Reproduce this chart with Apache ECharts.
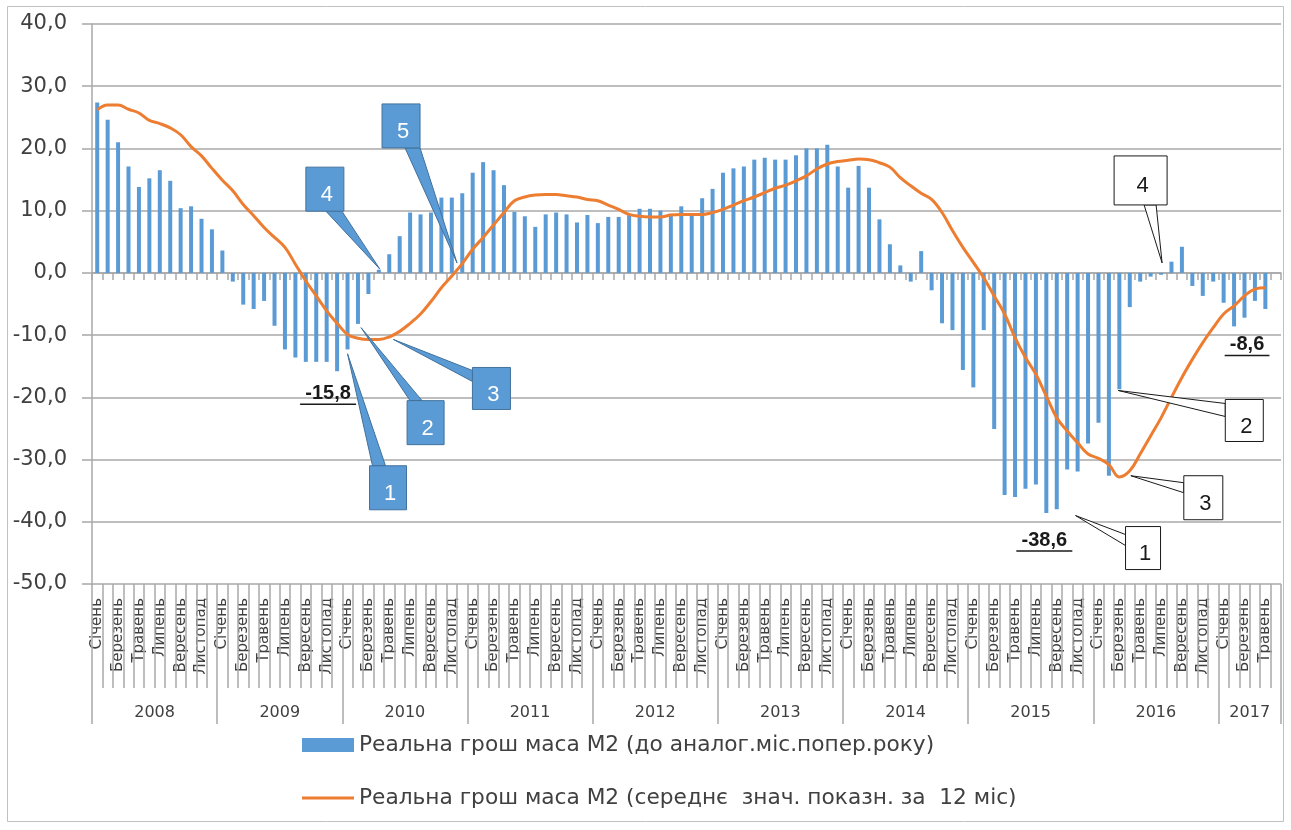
<!DOCTYPE html>
<html>
<head>
<meta charset="utf-8">
<script src="https://cdn.jsdelivr.net/npm/echarts@6/dist/echarts.min.js"></script>
<style>
html,body{margin:0;padding:0;background:#fff;}
#c{width:1291px;height:830px;}
</style>
</head>
<body>
<div id="c"></div>
<script>
// ---- data ----
const monthNames = ['Січень','Лютий','Березень','Квітень','Травень','Червень','Липень','Серпень','Вересень','Жовтень','Листопад','Грудень'];
const years = ['2008','2009','2010','2011','2012','2013','2014','2015','2016','2017'];
const monthsPerYear = [12,12,12,12,12,12,12,12,12,6];

const barValues = [
  27.4, 24.6, 21.0, 17.1, 13.8, 15.2, 16.5, 14.8, 10.4, 10.7, 8.7, 7.0,
  3.6, -1.4, -5.1, -5.8, -4.5, -8.5, -12.3, -13.6, -14.3, -14.3, -14.3, -15.8,
  -12.3, -8.2, -3.4, 0.5, 3.0, 5.9, 9.7, 9.4, 9.7, 12.1, 12.1, 12.8,
  16.1, 17.8, 16.5, 14.1, 9.8, 9.1, 7.4, 9.4, 9.7, 9.4, 8.1, 9.3,
  8.0, 9.0, 9.0, 9.3, 10.3, 10.3, 10.0, 9.5, 10.7, 9.2, 12.0, 13.5,
  16.1, 16.8, 17.1, 18.2, 18.5, 18.2, 18.2, 18.9, 20.0, 20.0, 20.6, 17.1,
  13.7, 17.2, 13.7, 8.6, 4.6, 1.2, -1.4, 3.5, -2.8, -8.1, -9.2, -15.6,
  -18.4, -9.2, -25.1, -35.7, -36.0, -34.7, -34.0, -38.6, -38.0, -31.6, -31.9, -27.4,
  -24.1, -32.6, -18.7, -5.5, -1.4, -0.6, -0.3, 1.8, 4.2, -2.1, -3.7, -1.4,
  -4.8, -8.6, -7.2, -4.5, -5.8, null
];
const avgValues = [
  26.2, 27.0, 27.0, 26.3, 25.7, 24.5, 24.0, 23.3, 22.2, 20.3, 18.8, 16.8,
  14.9, 13.2, 11.0, 9.2, 7.3, 5.7, 4.1, 1.4, -1.3, -3.7, -6.1, -8.1,
  -9.9, -10.5, -10.7, -10.7, -10.3, -9.4, -8.1, -6.6, -4.6, -2.4, -0.5, 1.5,
  3.8, 5.7, 7.7, 9.7, 11.6, 12.2, 12.5, 12.6, 12.6, 12.4, 12.2, 11.8,
  11.6, 10.9, 10.2, 9.4, 9.1, 9.0, 9.0, 9.3, 9.4, 9.4, 9.4, 9.7,
  10.2, 10.9, 11.6, 12.2, 12.9, 13.6, 14.1, 14.8, 15.6, 16.7, 17.5, 17.9,
  18.1, 18.3, 18.2, 17.7, 17.0, 15.3, 14.0, 12.8, 11.8, 9.7, 6.8, 4.1,
  1.7, -0.8, -3.7, -6.6, -10.4, -13.6, -16.3, -19.8, -23.3, -25.4, -27.3, -29.1,
  -29.8, -30.8, -32.8, -31.8, -29.1, -26.2, -23.3, -20.0, -16.8, -13.9, -11.2, -8.8,
  -6.6, -5.3, -3.7, -2.6, -2.4, null
];
const seriesNames = [
  'Реальна грош маса М2 (до аналог.міс.попер.року)',
  'Реальна грош маса М2 (середнє  знач. показн. за  12 міс)'
];
const yTicks = { min: -50, max: 40, step: 10 };

// value labels (category index, value, text)
const valueNotes = [
  { idx: 23, value: -15.8, text: '-15,8' },
  { idx: 91, value: -38.6, text: '-38,6' },
  { idx: 109, value: -8.6, text: '-8,6' }
];
// callouts: label, tip in data coords [category index, value]
const blueCallouts = [
  { label: '1', tip: [24, -13.0] },
  { label: '2', tip: [25.3, -8.8] },
  { label: '3', tip: [28.4, -10.7] },
  { label: '4', tip: [27.1, 0.6] },
  { label: '5', tip: [34.5, 1.6] }
];
const whiteCallouts = [
  { label: '4', tip: [102.1, 1.6] },
  { label: '2', tip: [97.9, -18.9] },
  { label: '3', tip: [99.1, -32.6] },
  { label: '1', tip: [93.8, -39.0] }
];

// ---- derived ----
const categories = [];
years.forEach((y, i) => { for (let m = 0; m < monthsPerYear[i]; m++) categories.push(monthNames[m]); });
const yearBounds = [0];
monthsPerYear.forEach(n => yearBounds.push(yearBounds[yearBounds.length - 1] + n));
const yearMids = years.map((y, i) => (yearBounds[i] + yearBounds[i + 1]) / 2);
const total = yearBounds[yearBounds.length - 1];

const FONT = 'DejaVu Sans';
const TXT = '#404040';
const GRID = '#A8A8A8';

const chart = echarts.init(document.getElementById('c'), null, { renderer: 'canvas' });

const option = {
  animation: false,
  backgroundColor: '#fff',
  textStyle: { fontFamily: FONT },
  grid: [
    { left: 92, right: 10, top: 24, bottom: 246, containLabel: false, outerBoundsMode: 'none' },
    { left: 92, right: 10, top: 584, height: 104, containLabel: false, outerBoundsMode: 'none' }
  ],
  legend: [
    {
      data: [{ name: seriesNames[0], icon: 'rect' }],
      left: 302, top: 734, padding: 0, itemWidth: 52, itemHeight: 14, itemGap: 0,
      textStyle: { fontFamily: FONT, fontSize: 21.7, color: TXT }
    },
    {
      data: [{ name: seriesNames[1], icon: 'rect' }],
      left: 302, top: 787, padding: 0, itemWidth: 52, itemHeight: 3, itemGap: 0,
      textStyle: { fontFamily: FONT, fontSize: 21.7, color: TXT }
    }
  ],
  xAxis: [
    {
      type: 'category', data: categories, gridIndex: 0,
      axisLine: { show: true, onZero: true, lineStyle: { color: GRID, width: 1.5 } },
      axisTick: { show: true, interval: 0, length: 7, lineStyle: { color: GRID, width: 1.5 } },
      axisLabel: { show: false },
      splitLine: { show: false }
    },
    {
      type: 'category', data: categories, gridIndex: 0, position: 'bottom', z: 5,
      axisLine: { show: false, onZero: false },
      axisTick: { show: false },
      axisLabel: { interval: 1, rotate: 90, margin: 14, fontFamily: FONT, fontSize: 15, color: TXT },
      splitLine: { show: false }
    },
    {
      type: 'value', gridIndex: 0, position: 'bottom', offset: 104, min: 0, max: total,
      axisLine: { show: false, onZero: false },
      axisTick: { show: true, length: 36, customValues: yearBounds, lineStyle: { color: GRID, width: 1.5 } },
      axisLabel: {
        customValues: yearMids, margin: 17, fontFamily: FONT, fontSize: 16, color: TXT,
        formatter: v => { const i = yearMids.indexOf(v); return i >= 0 ? years[i] : ''; }
      },
      splitLine: { show: false }
    },
    {
      // month separators of the label band
      type: 'value', gridIndex: 1, min: 0, max: total, interval: 1, z: 10,
      axisLine: { show: false, onZero: false }, axisTick: { show: false }, axisLabel: { show: false },
      splitLine: { show: true, lineStyle: { color: GRID, width: 1.5 } }
    }
  ],
  yAxis: [
    {
      type: 'value', gridIndex: 0, min: yTicks.min, max: yTicks.max, interval: yTicks.step,
      axisLine: { show: true, onZero: false, lineStyle: { color: GRID, width: 1.5 } },
      axisTick: { show: true, length: 10, lineStyle: { color: GRID, width: 1.5 } },
      axisLabel: { margin: 25, fontFamily: FONT, fontSize: 21, color: TXT,
        formatter: v => v.toFixed(1).replace('.', ',') },
      splitLine: { show: true, lineStyle: { color: GRID, width: 1.5 } }
    },
    {
      type: 'value', gridIndex: 1, min: 0, max: 1, show: false,
      axisLine: { show: false }, splitLine: { show: false }
    }
  ],
  series: [
    {
      name: seriesNames[0], type: 'bar', xAxisIndex: 0, yAxisIndex: 0,
      data: barValues, barWidth: 4, itemStyle: { color: '#5B9BD5' }, z: 2
    },
    {
      name: seriesNames[1], type: 'line', xAxisIndex: 0, yAxisIndex: 0,
      data: avgValues, symbol: 'none', showSymbol: false, smooth: 0.4,
      lineStyle: { color: '#ED7D31', width: 3 }, itemStyle: { color: '#ED7D31' }, z: 3
    }
  ]
};
chart.setOption(option);

// ---- annotations positioned through the chart's scales ----
function px(idx, val) {
  const i0 = Math.floor(idx), f = idx - i0;
  const a = chart.convertToPixel({ seriesIndex: 0 }, [i0, val]);
  const b = chart.convertToPixel({ seriesIndex: 0 }, [i0 + 1, val]);
  return [a[0] + f * (b[0] - a[0]), a[1]];
}
const g = [];
g.push({ type: 'rect', z: -10, silent: true, shape: { x: 7.5, y: 6.5, width: 1276, height: 815 },
  style: { fill: 'none', stroke: '#C0C0C0', lineWidth: 1 } });

// callout geometry (pixel offsets of box from tip, box size, pointer base on box)
const blueGeom = [
  { dx: 22, dy: 112, w: 37, h: 44, base: [[3, 0], [16, 0]] },
  { dx: 46, dy: 73, w: 37, h: 44, base: [[3, 0], [15, 0]] },
  { dx: 79, dy: 28, w: 38, h: 42, base: [[0, 3], [0, 14]] },
  { dx: -74, dy: -102, w: 38, h: 44, base: [[20, 44], [36, 44]] },
  { dx: -75, dy: -159, w: 38, h: 44, base: [[23, 44], [38, 44]] }
];
const whiteGeom = [
  { dx: -48, dy: -107, w: 53, h: 49, base: [[30, 49], [42, 49]] },
  { dx: 107, dy: 9, w: 38, h: 42, base: [[0, 4], [0, 17]] },
  { dx: 53, dy: 0, w: 39, h: 44, base: [[0, 7], [0, 17]] },
  { dx: 50, dy: 11, w: 35, h: 43, base: [[0, 8], [0, 19]] }
];
function addCallout(c, geo, blue) {
  const t = px(c.tip[0], c.tip[1]);
  const bx = t[0] + geo.dx, by = t[1] + geo.dy;
  const fill = blue ? '#5B9BD5' : '#FFFFFF';
  const stroke = blue ? '#41719C' : '#1a1a1a';
  g.push({ type: 'polygon', z: 100, silent: true,
    shape: { points: [t, [bx + geo.base[0][0], by + geo.base[0][1]], [bx + geo.base[1][0], by + geo.base[1][1]]] },
    style: { fill: fill, stroke: stroke, lineWidth: 1 } });
  g.push({ type: 'rect', z: 101, silent: true, shape: { x: bx, y: by, width: geo.w, height: geo.h },
    style: { fill: fill, stroke: stroke, lineWidth: 1 } });
  g.push({ type: 'text', z: 102, silent: true,
    style: { text: c.label, x: bx + geo.w / 2 + 2, y: by + geo.h / 2 + 6, align: 'center', verticalAlign: 'middle',
      font: '22px "Liberation Sans", Arial, sans-serif', fill: blue ? '#FFFFFF' : '#1a1a1a' } });
}
blueCallouts.forEach((c, i) => addCallout(c, blueGeom[i], true));
whiteCallouts.forEach((c, i) => addCallout(c, whiteGeom[i], false));

const noteOffsets = [[-9, 22], [-2, 27], [13, 18]];
valueNotes.forEach((n, i) => {
  const p = px(n.idx, n.value);
  const cx = p[0] + noteOffsets[i][0], cy = p[1] + noteOffsets[i][1];
  g.push({ type: 'text', z: 102, silent: true,
    style: { text: n.text, x: cx, y: cy, align: 'center', verticalAlign: 'middle',
      font: 'bold 20px "Liberation Sans", Arial, sans-serif', fill: '#1a1a1a' } });
  const hw = n.text.length * 5.6;
  g.push({ type: 'line', z: 102, silent: true,
    shape: { x1: cx - hw, y1: cy + 11, x2: cx + hw, y2: cy + 11 },
    style: { stroke: '#1a1a1a', lineWidth: 1.5 } });
});
chart.setOption({ graphic: { elements: g } });
</script>
</body>
</html>
